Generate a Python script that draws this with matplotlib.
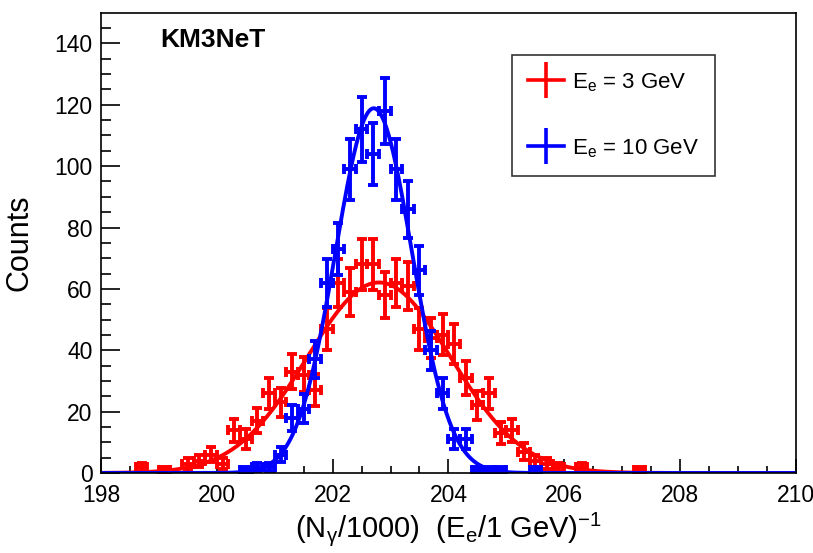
import matplotlib
matplotlib.use("Agg")
import matplotlib.pyplot as plt
from matplotlib.lines import Line2D
import numpy as np

plt.rcParams['font.family'] = ['Liberation Sans', 'DejaVu Sans']
plt.rcParams['mathtext.fontset'] = 'custom'
plt.rcParams['mathtext.rm'] = 'Liberation Sans'
plt.rcParams['mathtext.it'] = 'Liberation Sans:italic'
plt.rcParams['mathtext.bf'] = 'Liberation Sans:bold'

# histogram contents (bin centres, bin width 0.2)
bin_w = 0.2
red_x = [198.7, 199.1, 199.5, 199.7, 199.9, 200.1, 200.3, 200.5, 200.7, 200.9,
         201.1, 201.3, 201.5, 201.7, 201.9, 202.1, 202.3, 202.5, 202.7, 202.9,
         203.1, 203.3, 203.5, 203.7, 203.9, 204.1, 204.3, 204.5, 204.7, 204.9,
         205.1, 205.3, 205.5, 205.7, 205.9, 206.3, 207.3]
red_y = [2, 1, 3, 4, 6, 3, 14, 11, 17, 26,
         23, 33, 32, 27, 47, 62, 59, 68, 68, 58,
         62, 61, 47, 44, 45, 42, 31, 22, 26, 13,
         14, 7, 4, 3, 2, 2, 1]

blue_x = [200.5, 200.7, 200.9, 201.1, 201.3, 201.5, 201.7, 201.9, 202.1, 202.3,
          202.5, 202.7, 202.9, 203.1, 203.3, 203.5, 203.7, 203.9, 204.1, 204.3,
          204.5, 204.7, 204.9, 205.5]
blue_y = [1, 2, 2, 6, 18, 21, 37, 62, 73, 99,
          112, 104, 118, 99, 86, 66, 40, 26, 11, 11,
          1, 1, 1, 1]

labels = ['$\\mathrm{E_{e}}$ = 3 GeV', '$\\mathrm{E_{e}}$ = 10 GeV']


def gaus_fit(x, y):
    # simple chi2 grid fit of a gaussian, errors sqrt(N)
    x = np.asarray(x, float)
    y = np.asarray(y, float)
    w = 1.0 / np.maximum(y, 1.0)
    best = None
    for mu in np.arange(202.3, 203.2, 0.005):
        for sig in np.arange(0.3, 1.8, 0.005):
            g = np.exp(-0.5 * ((x - mu) / sig) ** 2)
            a = np.sum(w * y * g) / np.sum(w * g * g)
            chi2 = np.sum(w * (y - a * g) ** 2)
            if best is None or chi2 < best[0]:
                best = (chi2, a, mu, sig)
    return best[1:]


fig = plt.figure(figsize=(8.13, 5.53), dpi=100)
ax = fig.add_axes([0.1242, 0.1447, 0.979 - 0.1242, 0.977 - 0.1447])

xx = np.linspace(198, 210, 1000)
for x, y, c in [(red_x, red_y, 'red'), (blue_x, blue_y, 'blue')]:
    y = np.asarray(y, float)
    ax.errorbar(x, y, xerr=bin_w / 2, yerr=np.sqrt(y), fmt='none', ecolor=c,
                elinewidth=2.8, capsize=3.6, capthick=2.8)
    a, mu, sig = gaus_fit(x, y)
    ax.plot(xx, a * np.exp(-0.5 * ((xx - mu) / sig) ** 2), color=c, lw=2.8)

ax.set_xlim(198, 210)
ax.set_ylim(0, 150)
ax.set_xticks(np.arange(198, 211, 2))
ax.set_xticks(np.arange(198, 210.01, 0.5), minor=True)
ax.set_yticks(np.arange(0, 141, 20))
ax.set_yticks(np.arange(0, 150, 5), minor=True)
ax.tick_params(axis='both', which='both', direction='in', labelsize=16.5,
               top=False, right=False, width=1.2)
ax.tick_params(axis='y', which='major', length=14, pad=6)
ax.tick_params(axis='y', which='minor', length=7)
ax.tick_params(axis='x', which='major', length=10, pad=8)
ax.tick_params(axis='x', which='minor', length=5)
for s in ax.spines.values():
    s.set_linewidth(1.2)

ax.set_xlabel('(N$_{\\mathrm{\u03b3}}$/1000)  (E$_{\\mathrm{e}}$/1 GeV)$^{\\mathrm{-1}}$',
              fontsize=21, labelpad=2)
ax.set_ylabel('Counts', fontsize=22, labelpad=14)

ax.text(0.085, 0.94, 'KM3NeT', transform=ax.transAxes, fontsize=19,
        fontweight='bold', va='center', ha='left')

handles = [Line2D([], [], color='red', lw=2.6, marker='|', markersize=26, mew=2.6),
           Line2D([], [], color='blue', lw=2.6, marker='|', markersize=26, mew=2.6)]
leg = ax.legend(handles, labels, loc='upper left', bbox_to_anchor=(0.591, 0.909),
                fontsize=16, frameon=True, fancybox=False, edgecolor='black',
                handlelength=1.6, handletextpad=0.35, labelspacing=1.95,
                borderpad=0.75, borderaxespad=0)
leg.get_frame().set_linewidth(1.2)

fig.savefig('out.png', dpi=100)
